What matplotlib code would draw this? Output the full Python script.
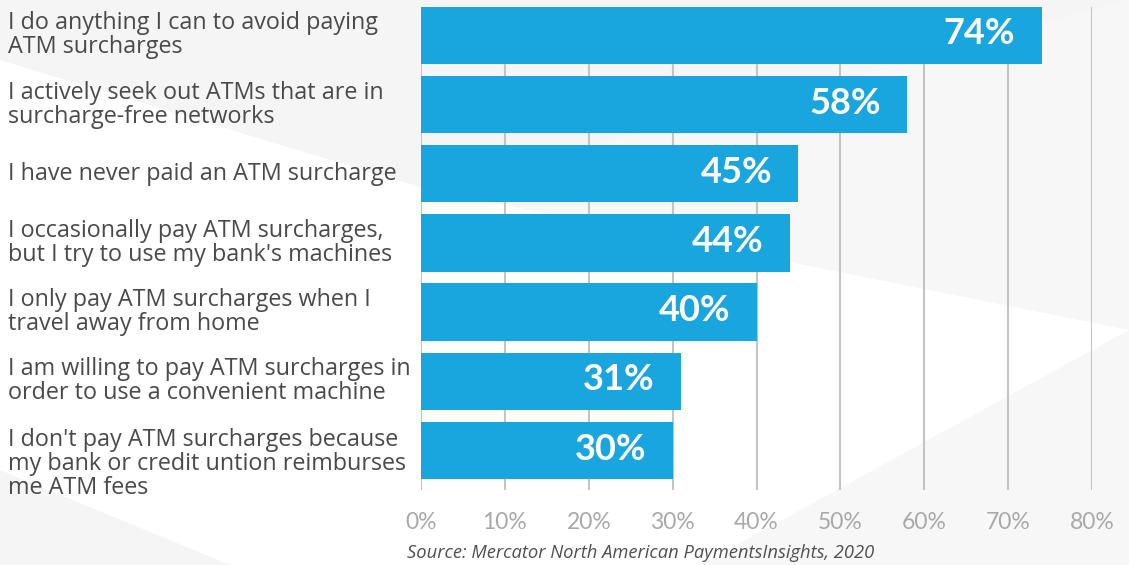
import matplotlib
matplotlib.use("Agg")
import matplotlib.pyplot as plt
from matplotlib.patches import Polygon
import matplotlib.transforms as mtransforms

categories = [
    "I do anything I can to avoid paying\nATM surcharges",
    "I actively seek out ATMs that are in\nsurcharge-free networks",
    "I have never paid an ATM surcharge",
    "I occasionally pay ATM surcharges,\nbut I try to use my bank's machines",
    "I only pay ATM surcharges when I\ntravel away from home",
    "I am willing to pay ATM surcharges in\norder to use a convenient machine",
    "I don't pay ATM surcharges because\nmy bank or credit untion reimburses\nme ATM fees",
]
values = [74, 58, 45, 44, 40, 31, 30]
xticks = [0, 10, 20, 30, 40, 50, 60, 70, 80]
xtick_labels = [f"{t}%" for t in xticks]
source = "Source: Mercator North American PaymentsInsights, 2020"

W, H = 1129, 565
fig = plt.figure(figsize=(W / 100, H / 100), dpi=100)
fig.patch.set_facecolor("#ffffff")

# subtle background shapes in a background axes
bg = fig.add_axes([0, 0, 1, 1], zorder=-10)
bg.set_xlim(0, W)
bg.set_ylim(H, 0)
bg.axis("off")
bg.add_patch(Polygon([(0, 0), (0, 60), (430, 190), (W, 0)], closed=True,
                     facecolor="#f5f5f5", edgecolor="none"))
bg.add_patch(Polygon([(W, 0), (430, 190), (W, 330)], closed=True,
                     facecolor="#f7f7f7", edgecolor="none"))
bg.add_patch(Polygon([(0, H), (0, 470), (230, H)], closed=True,
                     facecolor="#f5f5f5", edgecolor="none"))
bg.add_patch(Polygon([(700, H), (W, 330), (W, H)], closed=True,
                     facecolor="#f7f7f7", edgecolor="none"))

ax = fig.add_axes([421 / W, 1 - 490 / H, (1092 - 421) / W, (490 - 7) / H])
ax.set_facecolor("none")

y = list(range(len(values)))
ax.barh(y, values, height=0.83, color="#19a6de", zorder=3)
ax.set_xlim(0, 80)
ax.set_ylim(6.57, -0.41)

ax.set_xticks(xticks)
ax.set_xticklabels(xtick_labels, fontsize=16.5, color="#a9a9a9", family="Lato")
ax.tick_params(axis="x", length=0, pad=16)
ax.set_yticks([])
for s in ax.spines.values():
    s.set_visible(False)
ax.grid(axis="x", color="#c4c4c4", linewidth=1.5, zorder=1)
ax.set_axisbelow(True)

for yi, v in zip(y, values):
    ax.annotate(f"{v}%", xy=(v, yi), xytext=(-19, 1), textcoords="offset points",
                ha="right", va="center", color="white", fontsize=26,
                fontweight="bold", family="Lato", zorder=4)

trans = mtransforms.blended_transform_factory(fig.transFigure, ax.transData)
for yi, lab in zip(y, categories):
    nlines = lab.count("\n") + 1
    dy = -10 if nlines > 2 else 0
    ax.annotate(lab, xy=(8 / W, yi), xycoords=trans, xytext=(0, dy),
                textcoords="offset points", ha="left", va="center",
                fontsize=16.8, color="#4a4a4a", family="Open Sans",
                linespacing=1.0, annotation_clip=False)

fig.text(641 / W, 1 - 553 / H, source, ha="center", va="center", fontsize=13.2,
         color="#505050", style="italic", family="Open Sans")

fig.savefig("out.png", dpi=100, facecolor=fig.get_facecolor())
